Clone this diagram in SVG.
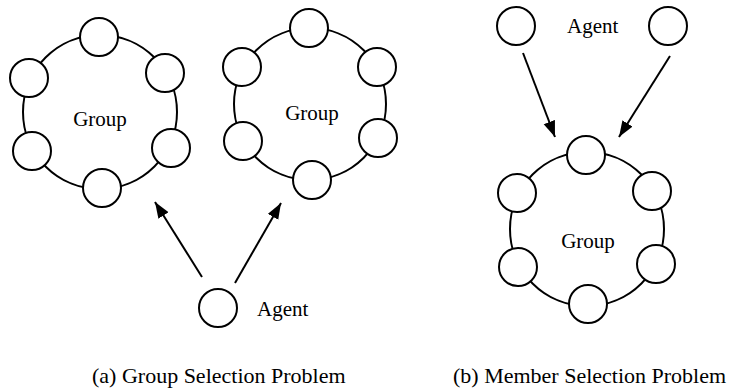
<svg xmlns="http://www.w3.org/2000/svg" width="731" height="389" viewBox="0 0 731 389">
<style>
.ring{fill:none;stroke:#000;stroke-width:2}
.m{fill:#fff;stroke:#000;stroke-width:2}
.t{font-family:"Liberation Serif","Times New Roman",serif;font-size:21px;fill:#000}
.cap{font-family:"Liberation Serif","Times New Roman",serif;font-size:22px;fill:#000}
.a{stroke:#000;stroke-width:2;fill:none;marker-end:url(#ah)}
</style>
<defs>
<marker id="ah" markerUnits="userSpaceOnUse" markerWidth="18" markerHeight="14" refX="16" refY="6" orient="auto">
<path d="M0,0 L16,6 L0,12 z" fill="#000"/>
</marker>
</defs>
<rect width="731" height="389" fill="#fff"/>
<g id="connectors">
<line class="a" x1="202" y1="277" x2="155" y2="202"/>
<line class="a" x1="235" y1="283" x2="281" y2="203"/>
<line class="a" x1="523" y1="53" x2="555" y2="137"/>
<line class="a" x1="670" y1="56" x2="619" y2="137"/>
</g>
<g id="group-a1">
<circle class="ring" cx="100" cy="112" r="77"/>
<circle class="m" cx="99" cy="37" r="19"/>
<circle class="m" cx="165" cy="73" r="19"/>
<circle class="m" cx="29" cy="78" r="19"/>
<circle class="m" cx="32" cy="151" r="19"/>
<circle class="m" cx="171" cy="148" r="19"/>
<circle class="m" cx="102" cy="188" r="19"/>
<text class="t" x="100" y="126" text-anchor="middle">Group</text>
</g>
<g id="group-a2">
<circle class="ring" cx="310" cy="104" r="76"/>
<circle class="m" cx="309" cy="28" r="19"/>
<circle class="m" cx="242" cy="67" r="19"/>
<circle class="m" cx="377" cy="67" r="19"/>
<circle class="m" cx="243" cy="141" r="19"/>
<circle class="m" cx="378" cy="138" r="19"/>
<circle class="m" cx="312" cy="180" r="19"/>
<text class="t" x="312" y="120" text-anchor="middle">Group</text>
</g>
<g id="agent-a">
<circle class="m" cx="218" cy="308" r="19"/>
<text class="t" x="257" y="316">Agent</text>
</g>
<g id="agents-b">
<circle class="m" cx="516" cy="26" r="19"/>
<circle class="m" cx="668" cy="26" r="19"/>
<text class="t" x="567" y="33">Agent</text>
</g>
<g id="group-b">
<circle class="ring" cx="587" cy="229" r="77"/>
<circle class="m" cx="586" cy="155" r="19"/>
<circle class="m" cx="517" cy="193" r="19"/>
<circle class="m" cx="652" cy="191" r="19"/>
<circle class="m" cx="518" cy="267" r="19"/>
<circle class="m" cx="656" cy="264" r="19"/>
<circle class="m" cx="588" cy="304" r="19"/>
<text class="t" x="588" y="248" text-anchor="middle">Group</text>
</g>
<g id="captions">
<text class="cap" x="92" y="383">(a) Group Selection Problem</text>
<text class="cap" x="453" y="383">(b) Member Selection Problem</text>
</g>
</svg>
